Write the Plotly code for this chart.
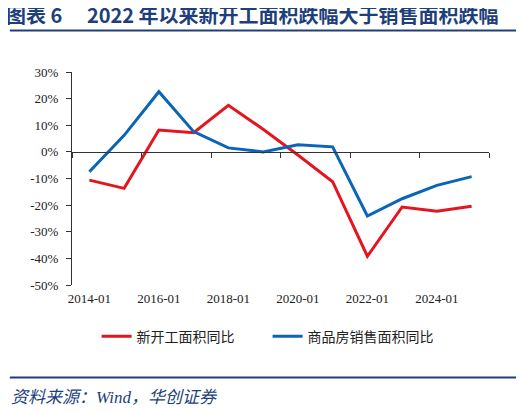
import plotly.graph_objects as go

years = ['2014-01', '2015-01', '2016-01', '2017-01', '2018-01', '2019-01',
         '2020-01', '2021-01', '2022-01', '2023-01', '2024-01', '2025-01']
new_start = [-10.6, -13.7, 8.2, 7.2, 17.5, 8.5, -1.2, -11.2, -39.2, -20.7, -22.3, -20.4]
sales = [-7.5, 6.2, 22.6, 7.6, 1.5, 0.0, 2.7, 1.9, -24.1, -17.6, -12.6, -9.3]
y_ticks = [30, 20, 10, 0, -10, -20, -30, -40, -50]

RED = '#E3161F'
BLUE = '#0A64B8'
NAVY = '#1E3F7A'
xs = list(range(len(years)))

fig = go.Figure()
fig.add_trace(go.Scatter(x=xs, y=new_start, mode='lines', name='新开工面积同比\u3000\u3000',
                         line=dict(color=RED, width=3)))
# second series sits on the overlay axis so that the zero-line axis gets drawn
fig.add_trace(go.Scatter(x=xs, y=sales, mode='lines', name='商品房销售面积同比',
                         xaxis='x2', line=dict(color=BLUE, width=3)))

serif = 'Liberation Serif, Times New Roman, serif'
# page has a body margin, so the figure is a bit smaller than the window
fig.update_layout(
    width=516, height=405,
    margin=dict(l=64, r=35, t=64, b=128),
    paper_bgcolor='white', plot_bgcolor='white',
    showlegend=True,
    legend=dict(orientation='h', x=0.059, y=-0.242, xanchor='left', yanchor='middle',
                font=dict(family='Noto Sans CJK SC', size=14, color='#222'),
                traceorder='normal'),
    xaxis=dict(range=[-0.5, 11.5], tickvals=xs[::2], ticktext=years[::2],
               showline=False, showgrid=False, zeroline=False, ticks='',
               ticklabelstandoff=4,
               tickfont=dict(family=serif, size=13, color='#222')),
    xaxis2=dict(range=[-0.5, 11.5], overlaying='x', anchor='free', position=0.625,
                tickvals=[i - 0.5 for i in range(0, 13, 2)], showticklabels=False,
                ticks='outside', ticklen=5, tickcolor='#333', showline=True,
                linecolor='#333', linewidth=1, showgrid=False, zeroline=False),
    yaxis=dict(range=[-50, 30], tickvals=y_ticks, ticktext=[f'{v}%' for v in y_ticks],
               showline=True, linecolor='#333', linewidth=1, ticks='outside',
               ticklen=5, tickcolor='#333', showgrid=False, zeroline=False,
               ticklabelstandoff=5,
               tickfont=dict(family=serif, size=13, color='#222')),
)

# title, rules and source
fig.add_annotation(text='<b>图表 6\u3000 2022 年以来新开工面积跌幅大于销售面积跌幅</b>',
                   xref='paper', yref='paper', x=-0.16, y=1.27, xanchor='left', yanchor='middle',
                   showarrow=False, borderpad=0,
                   font=dict(family='Noto Sans CJK SC', size=20, color=NAVY))
fig.add_shape(type='line', xref='paper', yref='paper', x0=-0.149, x1=1.066, y0=1.195, y1=1.195,
              line=dict(color=NAVY, width=2))
fig.add_shape(type='line', xref='paper', yref='paper', x0=-0.149, x1=1.066, y0=-0.434, y1=-0.434,
              line=dict(color=NAVY, width=2))
fig.add_annotation(text='<i>资料来源：Wind，华创证券</i>', xref='paper', yref='paper',
                   x=-0.15, y=-0.53, xanchor='left', yanchor='middle', showarrow=False,
                   font=dict(family='Liberation Serif, Noto Sans CJK SC', size=17, color=NAVY))

fig.write_html('out.html')
